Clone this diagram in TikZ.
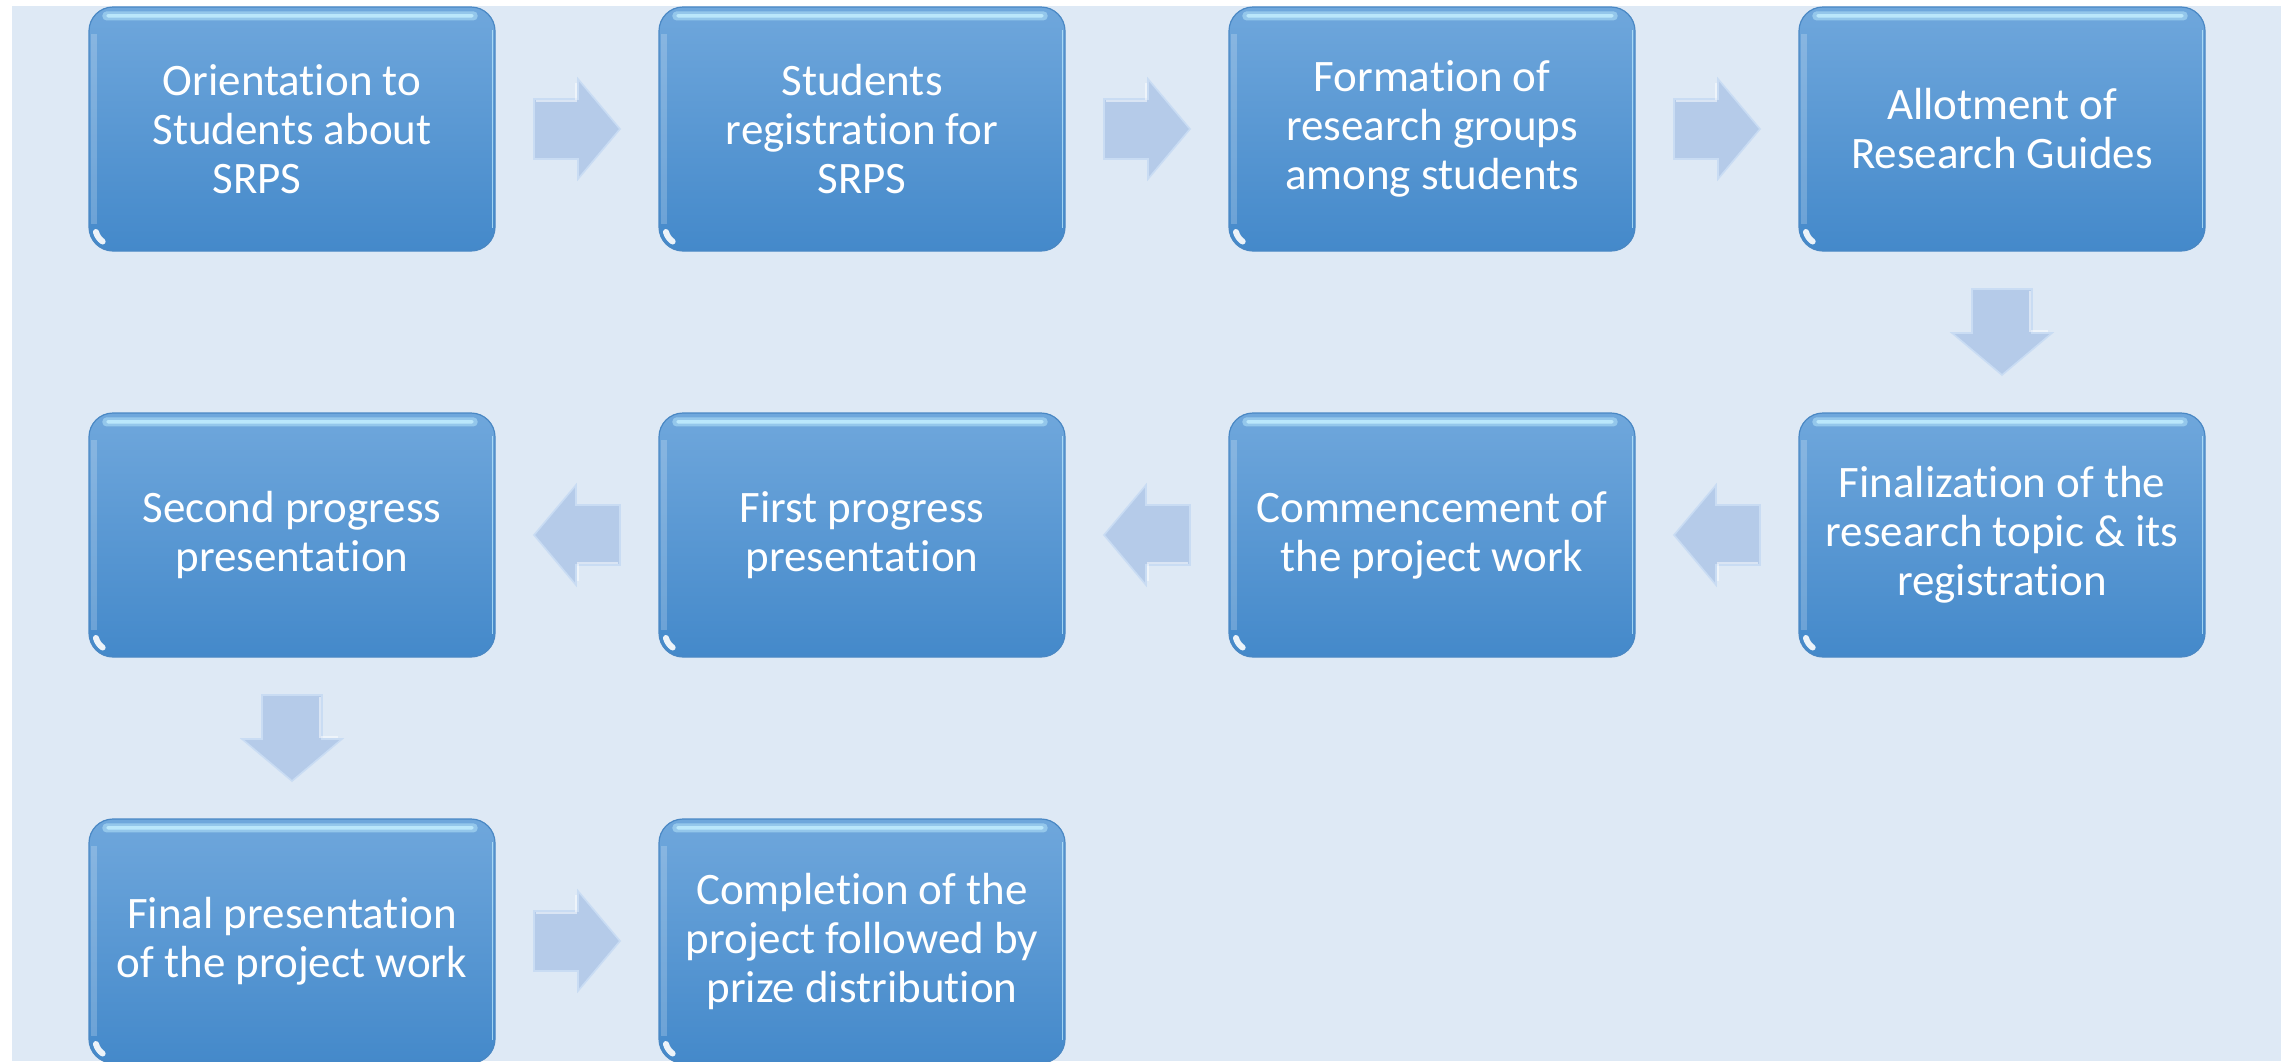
\documentclass[tikz,border=0pt]{standalone}
\usepackage{fontspec}
\setmainfont[RawFeature={-liga;-clig;-dlig}]{Carlito}
\usetikzlibrary{calc}
\definecolor{bgc}{HTML}{DEE9F5}
\definecolor{boxtop}{HTML}{6FA7DC}
\definecolor{boxbot}{HTML}{4489CA}
\definecolor{boxedge}{HTML}{4A88C4}
\definecolor{gloss}{HTML}{C4F0FF}
\definecolor{arrfill}{HTML}{B5CBE9}
\definecolor{arredge}{HTML}{C9DCF3}
\begin{document}
\begin{tikzpicture}[x=0.5pt,y=-0.5pt,
  stepbox/.style={rounded corners=12pt, minimum width=203pt, minimum height=122pt,
    top color=boxtop, bottom color=boxbot, draw=boxedge, line width=0.6pt,
    text=white, align=center, inner sep=0pt,
    font=\fontsize{22.5pt}{24.5pt}\selectfont},
  blockarrow/.pic={\fill[arrfill, draw=arredge, line width=0.8pt, line join=miter]
    (-43,-30) -- (1,-30) -- (1,-50) -- (43,0) -- (1,50) -- (1,30) -- (-43,30) -- cycle;
    \draw[white, opacity=0.5, line width=0.8pt] (-41,-28) -- (-1,-28) -- (-1,-46);}
]
\useasboundingbox (0,0) rectangle (2292,1061);
\fill[white] (0,0) rectangle (2292,1061);
\fill[bgc] (12,6) rectangle (2281,1061);

\node[stepbox] (b1) at (292,129) {Orientation to\\Students about\\SRPS\hspace*{35pt}};
\node[stepbox] (b2) at (862,129) {Students\\registration for\\SRPS};
\node[stepbox] (b3) at (1432,129) {Formation of\\research groups\\among students};
\node[stepbox] (b4) at (2002,129) {Allotment of\\Research Guides};
\node[stepbox] (b5) at (2002,535) {Finalization of the\\research topic \& its\\registration};
\node[stepbox] (b6) at (1432,535) {Commencement of\\the project work};
\node[stepbox] (b7) at (862,535) {First progress\\presentation};
\node[stepbox] (b8) at (292,535) {Second progress\\presentation};
\node[stepbox] (b9) at (292,941) {Final presentation\\of the project work};
\node[stepbox] (b10) at (862,941) {Completion of the\\project followed by\\prize distribution};

\foreach \n in {b1,b2,b3,b4,b5,b6,b7,b8,b9,b10}{
  \fill[gloss, opacity=0.45, rounded corners=2pt]
    ([xshift=7pt,yshift=-2.5pt]\n.north west) rectangle ([xshift=-9pt,yshift=-7pt]\n.north east);
  \fill[gloss, opacity=0.8, rounded corners=1pt]
    ([xshift=9pt,yshift=-3.8pt]\n.north west) rectangle ([xshift=-11pt,yshift=-5.6pt]\n.north east);
  \draw[gloss, opacity=0.7, line width=0.9pt]
    ([xshift=-1.6pt,yshift=-12pt]\n.north east) -- ([xshift=-1.6pt,yshift=12pt]\n.south east);
  \draw[white, opacity=0.2, line width=3pt]
    ([xshift=3pt,yshift=-14pt]\n.north west) -- ([xshift=3pt,yshift=14pt]\n.south west);
  \draw[white, opacity=0.9, line width=3pt, line cap=round]
    ([xshift=12pt,yshift=12pt]\n.south west) ++(195:8.5pt) arc[start angle=195, end angle=235, radius=8.5pt];
}

\path ($(b1.east)!0.5!(b2.west)$) pic{blockarrow};
\path ($(b2.east)!0.5!(b3.west)$) pic{blockarrow};
\path ($(b3.east)!0.5!(b4.west)$) pic{blockarrow};
\path ($(b4.south)!0.5!(b5.north)$) pic[rotate=-90]{blockarrow};
\path ($(b5.west)!0.5!(b6.east)$) pic[rotate=180]{blockarrow};
\path ($(b6.west)!0.5!(b7.east)$) pic[rotate=180]{blockarrow};
\path ($(b7.west)!0.5!(b8.east)$) pic[rotate=180]{blockarrow};
\path ($(b8.south)!0.5!(b9.north)$) pic[rotate=-90]{blockarrow};
\path ($(b9.east)!0.5!(b10.west)$) pic{blockarrow};
\end{tikzpicture}
\end{document}
